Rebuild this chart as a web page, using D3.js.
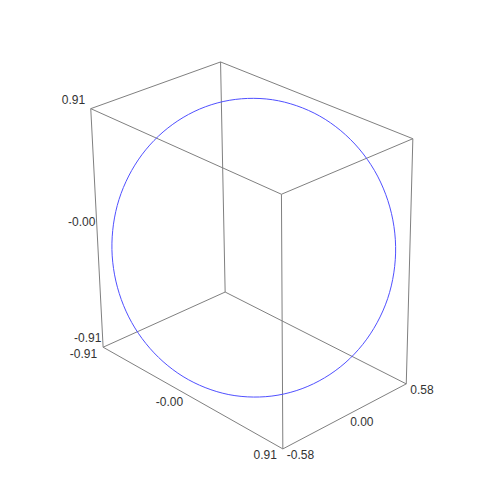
<!DOCTYPE html>
<html><head><meta charset="utf-8">
<script src="https://cdn.jsdelivr.net/npm/d3@7"></script>
<style>body{margin:0;background:#fff}</style>
</head><body><svg id="c" width="500" height="500"></svg>
<script>
// axis domains and tick labels
const xDomain = [-0.91, 0.91];
const yDomain = [-0.58, 0.58];
const zDomain = [-0.91, 0.91];
const xTicks = [-0.91, 0, 0.91];
const xTickLabels = ["-0.91", "-0.00", "0.91"];
const yTicks = [-0.58, 0, 0.58];
const yTickLabels = ["-0.58", "0.00", "0.58"];
const zTicks = [-0.91, 0, 0.91];
const zTickLabels = ["-0.91", "-0.00", "0.91"];

// the curve (a unit circle in a tilted plane), points read as x, y, z
const curveX = [0.707,0.796,0.861,0.899,0.911,0.894,0.851,0.781,0.688,0.574,0.442,0.297,0.143,-0.015,-0.173,-0.326,-0.468,-0.597,
                -0.707,-0.796,-0.861,-0.899,-0.911,-0.894,-0.851,-0.781,-0.688,-0.574,-0.442,-0.297,-0.143,0.015,0.173,0.326,0.468,0.597];
const curveY = [0.000,0.101,0.200,0.292,0.376,0.448,0.506,0.549,0.575,0.584,0.575,0.549,0.506,0.448,0.376,0.292,0.200,0.101,
                0.000,-0.101,-0.200,-0.292,-0.376,-0.448,-0.506,-0.549,-0.575,-0.584,-0.575,-0.549,-0.506,-0.448,-0.376,-0.292,-0.200,-0.101];
const curveZ = [-0.707,-0.597,-0.468,-0.326,-0.173,-0.015,0.143,0.297,0.442,0.574,0.688,0.781,0.851,0.894,0.911,0.899,0.861,0.796,
                0.707,0.597,0.468,0.326,0.173,0.015,-0.143,-0.297,-0.442,-0.574,-0.688,-0.781,-0.851,-0.894,-0.911,-0.899,-0.861,-0.796];

// scales (data -> world units)
const sx = d3.scaleLinear().domain(xDomain).range(xDomain);
const sy = d3.scaleLinear().domain(yDomain).range(yDomain);
const sz = d3.scaleLinear().domain(zDomain).range(zDomain);

// camera
const az = -42.7 * Math.PI / 180, el = 27.3 * Math.PI / 180;
const V = [Math.cos(el) * Math.cos(az), Math.cos(el) * Math.sin(az), Math.sin(el)];
const R = [-Math.sin(az), Math.cos(az), 0];
const U = [-Math.sin(el) * Math.cos(az), -Math.sin(el) * Math.sin(az), Math.cos(el)];
const dist = 13.7, scale = 149.4, cx = 250.5, cy = 248, roll = -0.0133;
const dot = (a, b) => a[0] * b[0] + a[1] * b[1] + a[2] * b[2];
function project(x, y, z) {
  const p = [sx(x), sy(y), sz(z)];
  const f = dist / (dist - dot(p, V));
  const a = dot(p, R) * scale * f, b = -dot(p, U) * scale * f;
  return [cx + a * Math.cos(roll) - b * Math.sin(roll), cy + a * Math.sin(roll) + b * Math.cos(roll)];
}

const svg = d3.select("#c");
const x0 = xDomain[0], x1 = xDomain[1], y0 = yDomain[0], y1 = yDomain[1], z0 = zDomain[0], z1 = zDomain[1];
const corners = [];
for (const z of [z0, z1]) for (const [x, y] of [[x0, y0], [x1, y0], [x1, y1], [x0, y1]]) corners.push([x, y, z]);
const edges = [[0,1],[1,2],[2,3],[3,0],[4,5],[5,6],[6,7],[7,4],[0,4],[1,5],[2,6],[3,7]];
svg.append("g").selectAll("line").data(edges).join("line")
  .attr("x1", e => project(...corners[e[0]])[0]).attr("y1", e => project(...corners[e[0]])[1])
  .attr("x2", e => project(...corners[e[1]])[0]).attr("y2", e => project(...corners[e[1]])[1])
  .attr("stroke", "#808080").attr("stroke-width", 1);

const pts = curveX.map((x, i) => project(x, curveY[i], curveZ[i]));
svg.append("path").attr("d", d3.line().curve(d3.curveCatmullRomClosed)(pts))
  .attr("fill", "none").attr("stroke", "#5050ff").attr("stroke-width", 1);

const font = "Liberation Sans, Arial, sans-serif";
const lab = svg.append("g").attr("font-family", font).attr("font-size", 12).attr("fill", "#333");
// z axis labels along front-left vertical edge
zTicks.forEach((t, i) => {
  const [px, py] = project(x0, y0, t);
  lab.append("text").attr("x", px - 29).attr("y", py - 5).text(zTickLabels[i]);
});
// x axis labels along bottom front-left edge
xTicks.forEach((t, i) => {
  const [px, py] = project(t, y0, z0);
  lab.append("text").attr("x", px - 6).attr("y", py + 10.5).attr("text-anchor", "end").text(xTickLabels[i]);
});
// y axis labels along bottom front-right edge
yTicks.forEach((t, i) => {
  const [px, py] = project(x1, t, z0);
  lab.append("text").attr("x", px + 4).attr("y", py + 10.5).text(yTickLabels[i]);
});
</script></body></html>
